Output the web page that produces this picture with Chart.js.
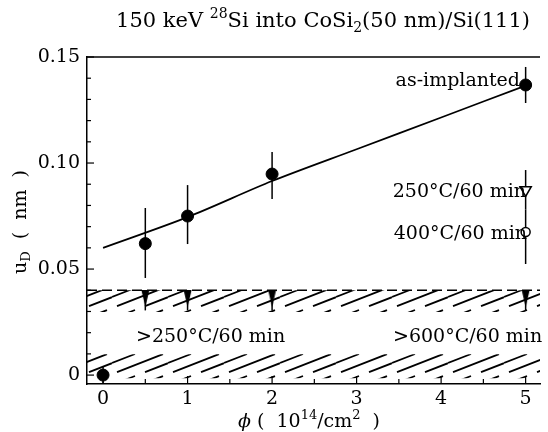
<!DOCTYPE html>
<html>
<head>
<meta charset="utf-8">
<script src="https://cdn.jsdelivr.net/npm/chart.js@4/dist/chart.umd.min.js"></script>
<style>
  html, body { margin: 0; padding: 0; background: #fff; overflow: hidden; }
  #wrap { width: 548px; height: 432px; }
</style>
</head>
<body>
<div id="wrap"><canvas id="chart"></canvas></div>
<script>
// as-implanted points
const implantX = [0, 0.5, 1, 2, 5];
const implantY = [0, 0.062, 0.075, 0.0948, 0.1368];
const implantLow = [-0.004, 0.0458, 0.0618, 0.083, 0.1283];
const implantHigh = [0.004, 0.0788, 0.0896, 0.1052, 0.1453];

// annealed samples at 5e14
const anneal250X = [5];
const anneal250Y = [0.0873];
const anneal250Low = [0.078];
const anneal250High = [0.0967];
const anneal400X = [5];
const anneal400Y = [0.0675];
const anneal400Low = [0.0524];
const anneal400High = [0.078];

// upper limits (filled triangles)
const limitX = [0.5, 1, 2, 5];
const limitY = [0.0361, 0.0361, 0.0361, 0.0361];
const limitLow = [0.0305, 0.0305, 0.0305, 0.0305];
const limitHigh = [0.040, 0.040, 0.040, 0.040];

// fitted curve
const fitX = [0, 1, 2, 3, 4, 5];
const fitY = [0.060, 0.0745, 0.0915, 0.1065, 0.1215, 0.1365];

// hatched bands
const bandX = [-0.19, 5.17];
const upperTop = [0.040, 0.040];
const upperBottom = [0.0298, 0.0298];
const lowerTop = [0.0098, 0.0098];
const lowerBottom = [-0.0015, -0.0015];

// axes
const xRange = [-0.19, 5.17];
const yRange = [-0.0042, 0.15];
const xTicks = [0, 0.5, 1, 1.5, 2, 2.5, 3, 3.5, 4, 4.5, 5];
const yTicks = [0, 0.01, 0.02, 0.03, 0.04, 0.05, 0.06, 0.07, 0.08, 0.09, 0.10, 0.11, 0.12, 0.13, 0.14, 0.15];

const SERIF = '"DejaVu Serif", "Liberation Serif", serif';
Chart.defaults.font.family = SERIF;
Chart.defaults.color = '#000';

const pts = (xs, ys) => xs.map((x, i) => ({ x, y: ys[i] }));

function hatchPattern() {
  const c = document.createElement('canvas');
  c.width = 56; c.height = 22;
  const g = c.getContext('2d');
  g.strokeStyle = '#000';
  g.lineWidth = 1.8;
  g.lineCap = 'butt';
  const seg = (x0, x1, b) => { g.beginPath(); g.moveTo(x0, b - 0.39 * x0); g.lineTo(x1, b - 0.39 * x1); g.stroke(); };
  seg(5, 51, 22);
  seg(0, 23, 11);
  seg(33, 56, 33);
  return g.createPattern(c, 'repeat');
}

function limitMarker() {
  const c = document.createElement('canvas');
  c.width = 9; c.height = 17;
  const g = c.getContext('2d');
  g.fillStyle = '#000';
  g.beginPath(); g.moveTo(0.5, 0); g.lineTo(8.5, 0); g.lineTo(4.5, 17); g.closePath(); g.fill();
  return c;
}

function isMult(v, step) { return Math.abs(v / step - Math.round(v / step)) < 1e-6; }

function drawRich(ctx, parts, x, y, size, align) {
  const fontOf = (p) => `${p.italic ? 'italic ' : ''}${p.sup || p.sub ? Math.round(size * 0.68) : size}px ${SERIF}`;
  let total = 0;
  parts.forEach((p) => { ctx.font = fontOf(p); total += ctx.measureText(p.t).width; });
  let cx = align === 'center' ? x - total / 2 : align === 'right' ? x - total : x;
  ctx.textAlign = 'left';
  ctx.textBaseline = 'alphabetic';
  parts.forEach((p) => {
    ctx.font = fontOf(p);
    const dy = p.sup ? -size * 0.42 : p.sub ? size * 0.22 : 0;
    ctx.fillText(p.t, cx, y + dy);
    cx += ctx.measureText(p.t).width;
  });
}

const errorBars = {
  id: 'errorBars',
  beforeDatasetDraw(chart, args) {
    const ds = chart.data.datasets[args.index];
    if (!ds.errLow) return;
    const { ctx, scales: { x, y } } = chart;
    ctx.save();
    ctx.strokeStyle = '#000';
    ctx.lineWidth = 1.5;
    ds.data.forEach((p, i) => {
      const px = x.getPixelForValue(p.x);
      ctx.beginPath();
      ctx.moveTo(px, y.getPixelForValue(ds.errLow[i]));
      ctx.lineTo(px, y.getPixelForValue(ds.errHigh[i]));
      ctx.stroke();
    });
    ctx.restore();
  }
};

const frame = {
  id: 'frame',
  afterDraw(chart) {
    const { ctx, chartArea: a, scales: { x, y } } = chart;
    ctx.save();
    ctx.strokeStyle = '#000';
    ctx.lineWidth = 1.5;
    ctx.beginPath(); ctx.moveTo(a.left, a.top); ctx.lineTo(a.right, a.top); ctx.stroke();
    ctx.lineWidth = 1.2;
    y.ticks.forEach((t) => {
      const py = y.getPixelForValue(t.value);
      const len = isMult(t.value, 0.05) ? 7 : 4;
      ctx.beginPath(); ctx.moveTo(a.left, py); ctx.lineTo(a.left + len, py); ctx.stroke();
    });
    x.ticks.forEach((t) => {
      const px = x.getPixelForValue(t.value);
      const len = isMult(t.value, 1) ? 8 : 5;
      ctx.beginPath(); ctx.moveTo(px, a.bottom); ctx.lineTo(px, a.bottom - len); ctx.stroke();
    });

    ctx.fillStyle = '#000';
    drawRich(ctx, [{ t: '150 keV ' }, { t: '28', sup: true }, { t: 'Si into CoSi' }, { t: '2', sub: true }, { t: '(50 nm)/Si(111)' }], 323, 27, 21, 'center');
    drawRich(ctx, [{ t: 'ϕ', italic: true }, { t: ' (  10' }, { t: '14', sup: true }, { t: '/cm' }, { t: '2', sup: true }, { t: '  )' }], 309, 427, 19, 'center');
    ctx.save();
    ctx.translate(26, 222);
    ctx.rotate(-Math.PI / 2);
    drawRich(ctx, [{ t: 'u' }, { t: 'D', sub: true }, { t: '  (  nm  )' }], 0, 0, 19, 'center');
    ctx.restore();

    drawRich(ctx, [{ t: 'as-implanted' }], 520, 86, 19, 'right');
    drawRich(ctx, [{ t: '250°C/60 min' }], 526, 197, 19, 'right');
    drawRich(ctx, [{ t: '400°C/60 min' }], 527, 239, 19, 'right');
    drawRich(ctx, [{ t: '>250°C/60 min' }], 136, 342, 19, 'left');
    drawRich(ctx, [{ t: '>600°C/60 min' }], 393, 342, 19, 'left');
    ctx.restore();
  }
};

const hatch = hatchPattern();
const markerDown = limitMarker();

new Chart(document.getElementById('chart'), {
  type: 'scatter',
  data: {
    datasets: [
      { label: 'as-implanted', data: pts(implantX, implantY), errLow: implantLow, errHigh: implantHigh,
        pointStyle: 'circle', pointRadius: 6, backgroundColor: '#000', borderColor: '#000', showLine: false },
      { label: '250°C/60 min', data: pts(anneal250X, anneal250Y), errLow: anneal250Low, errHigh: anneal250High,
        pointStyle: 'triangle', rotation: 180, pointRadius: 6.5, backgroundColor: '#fff', borderColor: '#000', borderWidth: 1.5, showLine: false },
      { label: '400°C/60 min', data: pts(anneal400X, anneal400Y), errLow: anneal400Low, errHigh: anneal400High,
        pointStyle: 'circle', pointRadius: 4.5, backgroundColor: '#fff', borderColor: '#000', borderWidth: 1.5, showLine: false },
      { label: 'limits', data: pts(limitX, limitY), errLow: limitLow, errHigh: limitHigh,
        pointStyle: markerDown, showLine: false },
      { label: 'fit', data: pts(fitX, fitY), showLine: true, pointRadius: 0, borderColor: '#000', borderWidth: 1.7, tension: 0.3 },
      { label: 'upper band', data: pts(bandX, upperTop), showLine: true, pointRadius: 0, borderColor: '#000', borderWidth: 1.4,
        borderDash: [10, 5], fill: '+1', backgroundColor: hatch },
      { label: 'upper band bottom', data: pts(bandX, upperBottom), showLine: true, pointRadius: 0, borderWidth: 0, borderColor: 'rgba(0,0,0,0)' },
      { label: 'lower band', data: pts(bandX, lowerTop), showLine: true, pointRadius: 0, borderWidth: 0, borderColor: 'rgba(0,0,0,0)',
        fill: '+1', backgroundColor: hatch },
      { label: 'lower band bottom', data: pts(bandX, lowerBottom), showLine: true, pointRadius: 0, borderWidth: 0, borderColor: 'rgba(0,0,0,0)' }
    ]
  },
  options: {
    responsive: true,
    maintainAspectRatio: false,
    animation: false,
    layout: { padding: { top: 57, left: 0, right: 0, bottom: 0 } },
    plugins: { legend: { display: false }, tooltip: { enabled: false } },
    scales: {
      x: {
        type: 'linear', min: xRange[0], max: xRange[1],
        afterFit: (s) => { s.height = 48; },
        afterBuildTicks: (s) => { s.ticks = xTicks.map((value) => ({ value })); },
        grid: { display: false, drawTicks: false },
        border: { display: true, color: '#000', width: 1.5 },
        ticks: { autoSkip: false, maxRotation: 0, padding: 4, font: { size: 19 },
          callback: (v) => (isMult(v, 1) ? String(Math.round(v)) : '') }
      },
      y: {
        type: 'linear', min: yRange[0], max: yRange[1],
        afterFit: (s) => { s.width = 87; },
        afterBuildTicks: (s) => { s.ticks = yTicks.map((value) => ({ value })); },
        grid: { display: false, drawTicks: false },
        border: { display: true, color: '#000', width: 1.5 },
        ticks: { autoSkip: false, padding: 7, font: { size: 19 },
          callback: (v) => (Math.abs(v) < 1e-9 ? '0' : isMult(v, 0.05) ? v.toFixed(2) : '') }
      }
    }
  },
  plugins: [errorBars, frame]
});
</script>
</body>
</html>
